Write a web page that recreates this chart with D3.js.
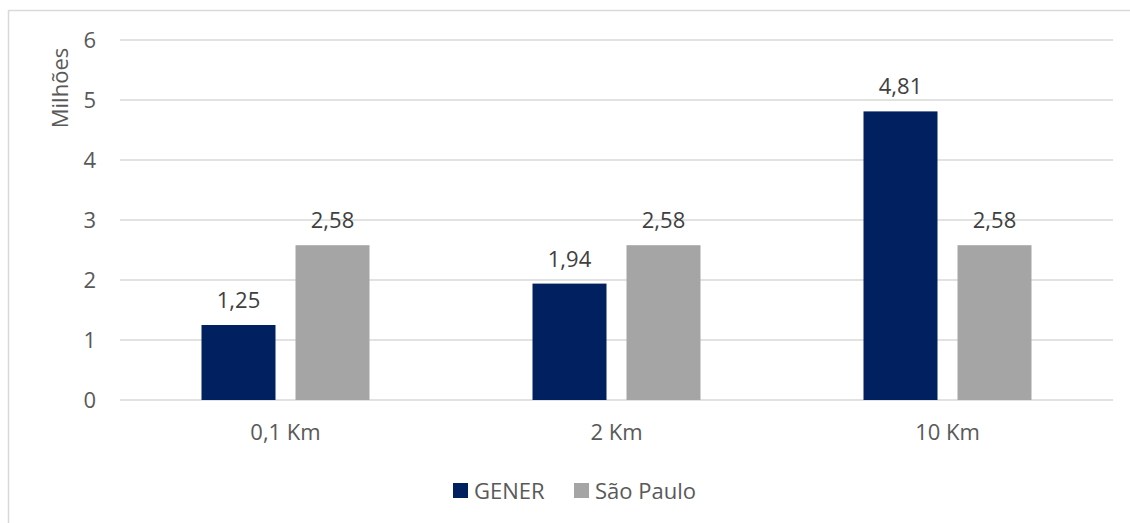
<!DOCTYPE html>
<html>
<head>
<meta charset="utf-8">
<script src="https://cdn.jsdelivr.net/npm/d3@7"></script>
<style>
  body { margin: 0; background: #fff; }
  text { font-family: "Open Sans", "Noto Sans", sans-serif; }
</style>
</head>
<body>
<div id="chart"></div>
<script>
// chart data
const categories = ["0,1 Km", "2 Km", "10 Km"];
const seriesNames = ["GENER", "São Paulo"];
const gener = [1.25, 1.94, 4.81];
const saoPaulo = [2.58, 2.58, 2.58];
const yTicks = [0, 1, 2, 3, 4, 5, 6];
const colors = ["#002060", "#A5A5A5"];

const width = 1130;
const height = 523;
const margin = {left: 120, right: 17, top: 40, bottom: 123};
const fontSize = "22px";

const svg = d3.select("#chart")
  .append("svg")
  .attr("width", width)
  .attr("height", height);

// outer frame
svg.append("rect")
  .attr("x", 8.5).attr("y", 10.5)
  .attr("width", width).attr("height", height)
  .attr("fill", "none")
  .attr("stroke", "#D9D9D9")
  .attr("stroke-width", 1.5);

const yScale = d3.scaleLinear()
  .domain([0, 6])
  .range([height - margin.bottom, margin.top]);

const xScale = d3.scaleBand()
  .domain(categories)
  .range([margin.left, width - margin.right]);

// inner band for the two bars of a group (74px bars, 20px gap)
const barW = 74, barGap = 20;
const groupW = 2 * barW + barGap;
const xInner = d3.scaleBand()
  .domain(seriesNames)
  .range([(xScale.bandwidth() - groupW) / 2, (xScale.bandwidth() + groupW) / 2])
  .paddingInner(barGap / (barW + barGap));

// gridlines
svg.append("g")
  .selectAll("line")
  .data(yTicks)
  .enter()
  .append("line")
    .attr("x1", margin.left)
    .attr("x2", width - margin.right)
    .attr("y1", d => yScale(d))
    .attr("y2", d => yScale(d))
    .attr("stroke", "#D9D9D9")
    .attr("stroke-width", 1.5);

// y axis labels
const yAxis = svg.append("g")
  .attr("transform", `translate(96,0)`)
  .call(d3.axisLeft(yScale).tickValues(yTicks).tickFormat(d3.format("d")).tickSize(0).tickPadding(0));
yAxis.select(".domain").remove();
yAxis.selectAll("text")
  .attr("font-size", fontSize)
  .attr("fill", "#595959")
  .attr("font-family", "'Open Sans', sans-serif");

// y axis title
svg.append("text")
  .attr("transform", "translate(68,88) rotate(-90)")
  .attr("text-anchor", "middle")
  .attr("font-size", fontSize)
  .attr("fill", "#595959")
  .text("Milhões");

// x axis labels
const xAxis = svg.append("g")
  .attr("transform", `translate(0,${height - margin.bottom + 24})`)
  .call(d3.axisBottom(xScale).tickSize(0).tickPadding(0));
xAxis.select(".domain").remove();
xAxis.selectAll("text")
  .attr("font-size", fontSize)
  .attr("fill", "#595959")
  .attr("font-family", "'Open Sans', sans-serif");

// bars
const rows = categories.map((c, i) => ({cat: c, vals: [gener[i], saoPaulo[i]]}));

const groups = svg.selectAll(".grp")
  .data(rows)
  .enter()
  .append("g")
    .attr("class", "grp")
    .attr("transform", d => `translate(${xScale(d.cat)},0)`);

const bars = groups.selectAll(".bar")
  .data(d => d.vals.map((v, j) => ({name: seriesNames[j], value: v, color: colors[j]})))
  .enter();

bars.append("rect")
  .attr("class", "bar")
  .attr("x", d => xInner(d.name))
  .attr("y", d => yScale(d.value))
  .attr("width", xInner.bandwidth())
  .attr("height", d => yScale(0) - yScale(d.value))
  .attr("fill", d => d.color);

// data labels
bars.append("text")
  .attr("x", d => xInner(d.name) + xInner.bandwidth() / 2)
  .attr("y", d => yScale(d.value) - 17)
  .attr("text-anchor", "middle")
  .attr("font-size", fontSize)
  .attr("fill", "#404040")
  .text(d => d3.format(".2f")(d.value).replace(".", ","));

// legend
const legend = svg.append("g").attr("transform", "translate(453,483)");
const legX = [0, 121];
seriesNames.forEach((n, i) => {
  legend.append("rect")
    .attr("x", legX[i]).attr("y", 0)
    .attr("width", 15).attr("height", 15)
    .attr("fill", colors[i]);
  legend.append("text")
    .attr("x", legX[i] + 21).attr("y", 16)
    .attr("font-size", fontSize)
    .attr("fill", "#595959")
    .text(n);
});
</script>
</body>
</html>
